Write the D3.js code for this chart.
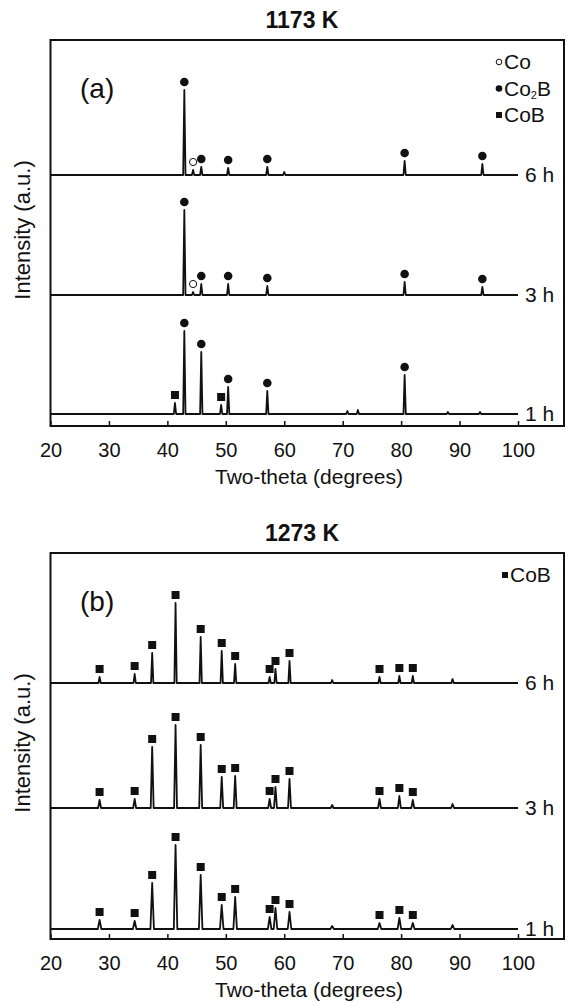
<!DOCTYPE html>
<html>
<head>
<meta charset="utf-8">
<script src="https://cdn.jsdelivr.net/npm/d3@7"></script>
<style>
  body { margin: 0; background: #fff; }
  text { font-family: "Liberation Sans", Arial, sans-serif; fill: #111; }
</style>
</head>
<body>
<div id="chart"></div>
<script>
// two-theta ticks shared by both panels
var thetaTicks = [20, 30, 40, 50, 60, 70, 80, 90, 100];

// ---- panel (a) 1173 K : peak position (deg), height (a.u.), phase
var a1Pos   = [41.3, 42.9, 45.8, 49.2, 50.4, 57.1, 70.8, 72.6, 80.6, 88.0, 93.5];
var a1Int   = [11, 83, 62, 9, 27, 23, 3, 4, 39, 2, 2];
var a1Phase = ["CoB", "Co2B", "Co2B", "CoB", "Co2B", "Co2B", "", "", "Co2B", "", ""];

var a3Pos   = [42.9, 44.4, 45.8, 50.4, 57.1, 80.6, 93.9];
var a3Int   = [85, 3, 11, 11, 9, 13, 8];
var a3Phase = ["Co2B", "Co", "Co2B", "Co2B", "Co2B", "Co2B", "Co2B"];

var a6Pos   = [42.9, 44.4, 45.8, 50.4, 57.1, 60.0, 80.6, 93.9];
var a6Int   = [85, 5, 8, 7, 8, 3, 14, 11];
var a6Phase = ["Co2B", "Co", "Co2B", "Co2B", "Co2B", "", "Co2B", "Co2B"];

// ---- panel (b) 1273 K : all marked peaks are CoB
var bPos  = [28.4, 34.4, 37.4, 41.4, 45.7, 49.3, 51.6, 57.5, 58.5, 60.9, 76.3, 79.7, 82.0];
var b1Int = [9, 8, 46, 84, 54, 24, 32, 12, 21, 17, 6, 11, 6];
var b3Int = [8, 9, 61, 83, 63, 31, 32, 9, 21, 29, 9, 12, 8];
var b6Int = [6, 9, 30, 80, 46, 32, 19, 6, 14, 22, 6, 7, 7];
var bExtraPos = [68.2, 88.8];
var bExtraInt = [3, 4];

var hours = ["1 h", "3 h", "6 h"];
var offsetsA = [12, 131, 251];
var offsetsB = [10, 131, 256];

var W = 570, H = 1003;
var svg = d3.select("#chart").append("svg").attr("width", W).attr("height", H);

function peaksOf(pos, ints, phases) {
  return pos.map(function(p, i) { return {pos: p, h: ints[i], phase: phases ? phases[i] : "CoB"}; });
}

function profile(peaks, w) {
  var pts = [[20, 0]];
  peaks.slice().sort(function(a, b) { return a.pos - b.pos; }).forEach(function(d) {
    pts.push([d.pos - w, 0], [d.pos, d.h], [d.pos + w, 0]);
  });
  pts.push([100, 0]);
  return pts;
}

function drawPanel(top, title, tag, patterns, offsets, legendItems) {
  var left = 50.5, right = 564, plotH = 386;
  var bottom = top + plotH;
  var x = d3.scaleLinear().domain([20, 100]).range([left, 518]);
  var y = d3.scaleLinear().domain([0, plotH]).range([bottom, top]);
  var g = svg.append("g");

  g.append("text").attr("x", 302).attr("y", top - 20).attr("dy", "0.35em")
    .attr("text-anchor", "middle").style("font-weight", "bold").style("font-size", "23px")
    .text(title);

  // patterns
  var line = d3.line().x(function(d) { return x(d[0]); }).y(function(d) { return y(d[1]); });
  patterns.forEach(function(pk, i) {
    var off = offsets[i];
    var pts = profile(pk.peaks, pk.w).map(function(d) { return [d[0], d[1] + off]; });
    g.append("path").attr("d", line(pts)).attr("fill", "none")
      .attr("stroke", "#111").attr("stroke-width", 1.8).attr("stroke-linejoin", "round");

    var marked = pk.peaks.filter(function(d) { return d.phase; });
    marked.forEach(function(d) {
      var cx = x(d.pos), cy = y(d.h + off) - 8;
      if (d.phase === "CoB") {
        g.append("rect").attr("x", cx - 4).attr("y", cy - 4).attr("width", 8).attr("height", 8).attr("fill", "#111");
      } else if (d.phase === "Co2B") {
        g.append("circle").attr("cx", cx).attr("cy", cy).attr("r", 4.3).attr("fill", "#111");
      } else {
        g.append("circle").attr("cx", cx).attr("cy", cy).attr("r", 3.6).attr("fill", "#fff")
          .attr("stroke", "#111").attr("stroke-width", 1);
      }
    });

    g.append("text").attr("x", x(100) + 7).attr("y", y(off)).attr("dy", "0.35em")
      .style("font-size", "21px").text(hours[i]);
  });

  // frame
  g.append("rect").attr("x", left).attr("y", top).attr("width", right - left).attr("height", plotH)
    .attr("fill", "none").attr("stroke", "#111").attr("stroke-width", 2);

  var axis = d3.axisBottom(x).tickValues(thetaTicks).tickSizeInner(-5).tickSizeOuter(0).tickPadding(17);
  var ax = g.append("g").attr("transform", "translate(0," + bottom + ")").call(axis);
  ax.select(".domain").remove();
  ax.selectAll("line").attr("stroke", "#111").attr("stroke-width", 1.5);
  ax.selectAll("text").style("font-size", "20px").style("font-family", "Liberation Sans, Arial, sans-serif").attr("fill", "#111");

  g.append("text").attr("x", 309).attr("y", bottom + 51).attr("dy", "0.35em")
    .attr("text-anchor", "middle").style("font-size", "21px").text("Two-theta (degrees)");

  g.append("text").attr("transform", "translate(22," + (top + plotH / 2 - 3) + ") rotate(-90)")
    .attr("dy", "0.35em").attr("text-anchor", "middle").style("font-size", "22px")
    .text("Intensity (a.u.)");

  g.append("text").attr("x", 80).attr("y", top + 48).attr("dy", "0.35em")
    .style("font-size", "28px").text(tag);

  // legend
  legendItems.forEach(function(it, i) {
    var ly = top + 22 + i * 26.5, lx = it.x;
    if (it.phase === "Co") {
      g.append("circle").attr("cx", lx).attr("cy", ly).attr("r", 2.8).attr("fill", "#fff")
        .attr("stroke", "#111").attr("stroke-width", 1);
    } else if (it.phase === "Co2B") {
      g.append("circle").attr("cx", lx).attr("cy", ly).attr("r", 3.3).attr("fill", "#111");
    } else {
      g.append("rect").attr("x", lx - 3).attr("y", ly - 3).attr("width", 6).attr("height", 6).attr("fill", "#111");
    }
    var t = g.append("text").attr("x", lx + 5).attr("y", ly).attr("dy", "0.35em").style("font-size", "21px");
    if (it.phase === "Co2B") {
      t.append("tspan").text("Co");
      t.append("tspan").attr("dy", "3.5").style("font-size", "11px").text("2");
      t.append("tspan").attr("dy", "-3.5").text("B");
    } else {
      t.text(it.phase);
    }
  });
}

var patternsA = [
  {peaks: peaksOf(a1Pos, a1Int, a1Phase), w: 0.2},
  {peaks: peaksOf(a3Pos, a3Int, a3Phase), w: 0.2},
  {peaks: peaksOf(a6Pos, a6Int, a6Phase), w: 0.2}
];
function withExtras(ints) {
  return peaksOf(bPos, ints).concat(peaksOf(bExtraPos, bExtraInt, ["", ""]));
}
var patternsB = [
  {peaks: withExtras(b1Int), w: 0.3},
  {peaks: withExtras(b3Int), w: 0.25},
  {peaks: withExtras(b6Int), w: 0.2}
];

drawPanel(40, "1173 K", "(a)", patternsA, offsetsA,
  [{phase: "Co", x: 499}, {phase: "Co2B", x: 499}, {phase: "CoB", x: 499}]);
drawPanel(553, "1273 K", "(b)", patternsB, offsetsB,
  [{phase: "CoB", x: 505}]);
</script>
</body>
</html>
